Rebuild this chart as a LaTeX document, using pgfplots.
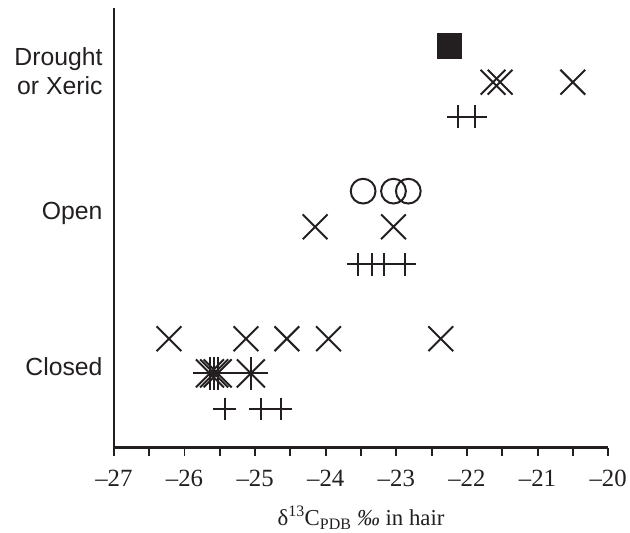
\documentclass[border=0pt]{standalone}
\usepackage{pgfplots}
\pgfplotsset{compat=1.18}
\usepackage{fontspec}
\setmainfont{Liberation Serif}
\newfontfamily\arial{Liberation Sans}
\definecolor{ink}{RGB}{35,31,32}
\begin{document}
\begin{tikzpicture}
\begin{axis}[
  width=499pt, height=444pt, scale only axis,
  xmin=-27, xmax=-20, ymin=85, ymax=529,
  axis x line*=bottom, axis y line*=left,
  axis line style={line width=2.4pt, ink, -},
  xtick={-27,-26,-25,-24,-23,-22,-21,-20},
  xticklabels={–27,–26,–25,–24,–23,–22,–21,–20},
  minor x tick num=1,
  ytick={465,322,167},
  yticklabels={Drought\\or Xeric, Open, Closed},
  yticklabel style={font=\arial\fontsize{25}{29}\selectfont, align=right, text=ink},
  xticklabel style={font=\fontsize{25}{28}\selectfont, text=ink, yshift=-11pt},
  tick align=outside,
  x tick style={line width=2pt, ink},
  y tick style={draw=none},
  major tick length=8pt, minor tick length=8pt,
  xlabel={δ\textsuperscript{13}C\textsubscript{PDB} \textit{‰} in hair},
  xlabel style={font=\fontsize{23}{26}\selectfont, text=ink, yshift=-13pt},
  clip=false,
]
% filled square
\addplot[only marks, mark=square*, mark size=12.5pt, ink, fill=ink] coordinates {(-22.25,491)};
% X marks
\addplot[only marks, mark=x, mark size=17.7pt, line width=2pt, ink] coordinates {
  (-21.63,454) (-21.53,454) (-20.5,454)
  (-24.15,308) (-23.04,308)
  (-26.22,195) (-25.13,195) (-24.55,195) (-23.96,195) (-22.37,195)};
% plus marks
\addplot[only marks, mark=+, mark size=11.5pt, line width=2pt, ink] coordinates {
  (-22.12,419) (-21.88,419)
  (-23.54,270) (-23.35,270) (-23.17,270) (-22.88,270)
  (-25.43,124) (-24.92,124) (-24.64,124)};
% open circles
\addplot[only marks, mark=o, mark size=12.5pt, line width=2pt, ink] coordinates {
  (-23.47,344) (-23.04,344) (-22.83,344)};
% asterisks (plus + x)
\addplot[only marks, mark=+, mark size=17pt, line width=2pt, ink] coordinates {
  (-25.64,160) (-25.58,160) (-25.53,160) (-25.06,160)};
\addplot[only marks, mark=x, mark size=20pt, line width=2pt, ink] coordinates {
  (-25.64,160) (-25.58,160) (-25.53,160) (-25.06,160)};
\end{axis}
\draw[line width=2.4pt, ink] (current axis.south west) -- ([yshift=-8pt]current axis.south west);
\path ([shift={(-115pt,-85pt)}]current axis.south west) rectangle ([shift={(16pt,8pt)}]current axis.north east);
\end{tikzpicture}
\end{document}
